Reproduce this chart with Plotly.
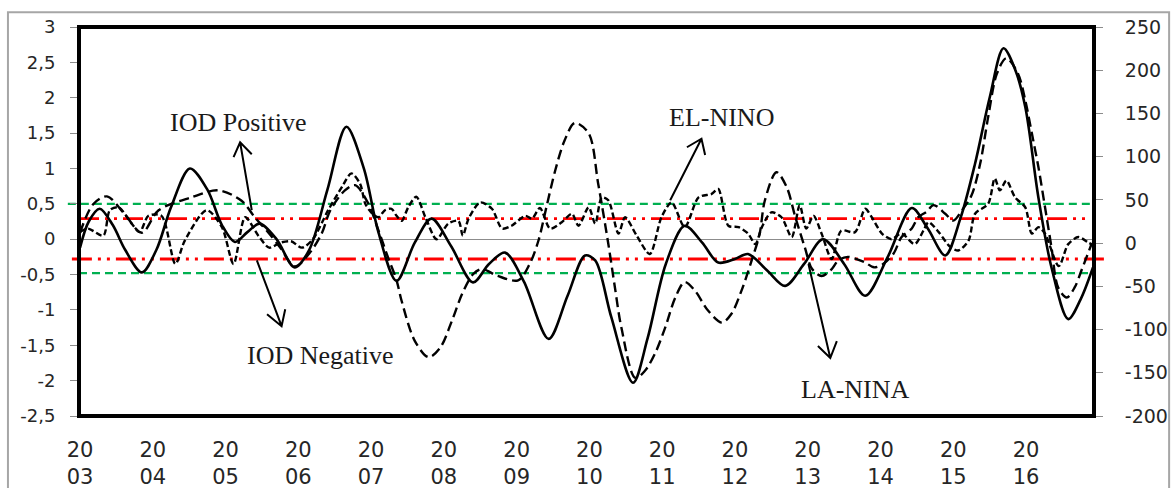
import plotly.graph_objects as go

# ENSO index (solid, left axis)
solid_years = [2003.00, 2003.12, 2003.27, 2003.45, 2003.62, 2003.85, 2004.05, 2004.25, 2004.51, 2004.75,
               2004.95, 2005.13, 2005.30, 2005.47, 2005.70, 2005.95, 2006.15, 2006.40, 2006.66, 2006.90,
               2007.10, 2007.35, 2007.60, 2007.83, 2008.10, 2008.40, 2008.62, 2008.84, 2009.10, 2009.44,
               2009.70, 2009.94, 2010.08, 2010.30, 2010.60, 2010.80, 2011.05, 2011.31, 2011.55, 2011.77,
               2012.00, 2012.18, 2012.45, 2012.69, 2012.95, 2013.21, 2013.50, 2013.79, 2014.10, 2014.43,
               2014.65, 2014.89, 2015.10, 2015.30, 2015.50, 2015.69, 2015.85, 2015.99, 2016.17, 2016.35,
               2016.58, 2016.75, 2016.92]
solid_vals = [-0.12, 0.25, 0.43, 0.20, -0.15, -0.47, -0.15, 0.45, 1.00, 0.70,
              0.20, -0.04, 0.10, 0.22, 0.00, -0.40, -0.15, 0.70, 1.59, 1.00,
              0.10, -0.59, -0.05, 0.29, -0.10, -0.61, -0.35, -0.19, -0.60, -1.41,
              -0.80, -0.23, -0.30, -1.10, -2.03, -1.40, -0.35, 0.19, -0.05, -0.33,
              -0.28, -0.21, -0.45, -0.66, -0.35, 0.00, -0.35, -0.80, -0.25, 0.44,
              0.15, -0.23, 0.30, 1.07, 2.00, 2.70, 2.40, 1.87, 0.59, -0.40,
              -1.13, -0.85, -0.40]

# Second ENSO index (long dash, right axis)
ldash_years = [2003.00, 2003.18, 2003.37, 2003.60, 2003.85, 2004.08, 2004.53, 2004.90, 2005.22, 2005.40,
               2005.57, 2005.75, 2005.95, 2006.15, 2006.32, 2006.44, 2006.64, 2006.78, 2006.96, 2007.10,
               2007.23, 2007.35, 2007.42, 2007.60, 2007.79, 2007.95, 2008.11, 2008.25, 2008.40, 2008.52,
               2008.74, 2009.02, 2009.18, 2009.30, 2009.41, 2009.53, 2009.66, 2009.80, 2009.99, 2010.12,
               2010.26, 2010.35, 2010.44, 2010.63, 2010.76, 2010.90, 2011.04, 2011.18, 2011.31, 2011.45,
               2011.63, 2011.82, 2011.95, 2012.09, 2012.23, 2012.34, 2012.41, 2012.57, 2012.71, 2012.83,
               2012.96, 2013.06, 2013.19, 2013.33, 2013.42, 2013.55, 2013.78, 2013.91, 2014.04, 2014.18,
               2014.29, 2014.43, 2014.52, 2014.63, 2014.73, 2014.89, 2015.00, 2015.12, 2015.25, 2015.37,
               2015.48, 2015.60, 2015.73, 2015.89, 2015.99, 2016.08, 2016.17, 2016.26, 2016.35, 2016.44,
               2016.56, 2016.67, 2016.76, 2016.90]
ldash_vals = [12, 45, 54, 35, 12, 38, 53, 61, 49, 30,
              14, -5, -27, -12, 11, 38, 61, 67, 46, 15,
              -16, -43, -67, -113, -132, -121, -90, -59, -36, -30,
              -38, -43, -24, 3, 42, 84, 119, 139, 127, 69,
              -1, -51, -98, -156, -148, -128, -98, -63, -45, -55,
              -78, -92, -82, -55, -20, 11, 49, 82, 65, 30,
              -5, -30, -38, -30, -20, -16, -22, -28, -24, -12,
              7, 17, 30, 36, 44, 34, 26, 38, 55, 92,
              146, 196, 214, 196, 165, 127, 88, 42, -5, -51,
              -63, -51, -32, -1]

# IOD index (short dash, left axis)
iod_years = [2003.00, 2003.11, 2003.32, 2003.41, 2003.53, 2003.71, 2003.82, 2003.94, 2004.12, 2004.31,
             2004.44, 2004.74, 2004.95, 2005.11, 2005.27, 2005.45, 2005.60, 2005.75, 2005.90, 2006.05,
             2006.20, 2006.41, 2006.60, 2006.73, 2006.85, 2006.92, 2007.00, 2007.10, 2007.19, 2007.28,
             2007.35, 2007.42, 2007.51, 2007.62, 2007.75, 2007.90, 2008.06, 2008.20, 2008.26, 2008.34,
             2008.50, 2008.66, 2008.80, 2008.93, 2009.12, 2009.21, 2009.32, 2009.46, 2009.62, 2009.76,
             2009.85, 2009.99, 2010.08, 2010.17, 2010.26, 2010.40, 2010.49, 2010.65, 2010.83, 2010.99,
             2011.13, 2011.31, 2011.50, 2011.68, 2011.77, 2011.91, 2012.05, 2012.18, 2012.28, 2012.37,
             2012.50, 2012.64, 2012.78, 2012.89, 2012.98, 2013.08, 2013.19, 2013.33, 2013.46, 2013.65,
             2013.79, 2013.88, 2014.02, 2014.15, 2014.29, 2014.47, 2014.59, 2014.66, 2014.80, 2014.95,
             2015.07, 2015.21, 2015.30, 2015.48, 2015.57, 2015.64, 2015.73, 2015.85, 2015.99, 2016.08,
             2016.17, 2016.26, 2016.45, 2016.58, 2016.72, 2016.86, 2016.92]
iod_vals = [0.10, 0.15, 0.05, 0.41, 0.45, 0.22, 0.10, 0.33, 0.33, -0.35,
            -0.02, 0.41, 0.17, -0.35, 0.31, 0.05, -0.12, -0.05, -0.03, -0.12,
            0.00, 0.41, 0.74, 0.93, 0.78, 0.50, 0.38, 0.31, 0.41, 0.43,
            0.33, 0.26, 0.45, 0.60, 0.30, 0.00, 0.22, 0.26, 0.05, 0.29,
            0.52, 0.43, 0.15, 0.19, 0.33, 0.29, 0.44, 0.15, 0.24, 0.36,
            0.19, 0.45, 0.22, 0.59, 0.55, 0.08, 0.31, 0.05, -0.21, 0.31,
            0.52, 0.17, 0.59, 0.64, 0.71, 0.19, 0.17, 0.08, -0.07, 0.17,
            0.38, 0.31, 0.03, 0.48, 0.15, 0.33, 0.08, -0.28, 0.12, 0.10,
            0.43, 0.31, 0.08, 0.00, 0.08, -0.07, 0.12, 0.24, 0.10, -0.10,
            -0.16, -0.02, 0.36, 0.50, 0.86, 0.69, 0.83, 0.59, 0.45, 0.08,
            0.17, 0.08, -0.38, -0.07, 0.03, -0.05, -0.08]

# Threshold levels (left axis units)
green_levels = [0.50, -0.48]
red_levels = [0.29, -0.28]

# Axis ticks
year_ticks = list(range(2003, 2017))
year_labels = ["20<br>%02d" % (y % 100) for y in year_ticks]
left_ticks = [-2.5, -2, -1.5, -1, -0.5, 0, 0.5, 1, 1.5, 2, 2.5, 3]
left_labels = ["-2,5", "-2", "-1,5", "-1", "-0,5", "0", "0,5", "1", "1,5", "2", "2,5", "3"]
right_ticks = [-200, -150, -100, -50, 0, 50, 100, 150, 200, 250]
right_labels = ["-200", "-150", "-100", "-50", "0", "50", "100", "150", "200", "250"]

fig = go.Figure()

fig.add_trace(go.Scatter(x=solid_years, y=solid_vals, mode="lines", yaxis="y",
                         line=dict(color="black", width=2.6, shape="spline", smoothing=0.9),
                         hoverinfo="skip"))
fig.add_trace(go.Scatter(x=ldash_years, y=ldash_vals, mode="lines", yaxis="y2",
                         line=dict(color="black", width=2.4, dash="10px,5px", shape="spline", smoothing=0.9),
                         hoverinfo="skip"))
fig.add_trace(go.Scatter(x=iod_years, y=iod_vals, mode="lines", yaxis="y",
                         line=dict(color="black", width=2.4, dash="6px,3px", shape="spline", smoothing=0.8),
                         hoverinfo="skip"))

shapes = []
# threshold lines
shapes.append(dict(type="line", xref="paper", yref="y", x0=-0.011, x1=1.0, y0=green_levels[0], y1=green_levels[0],
                   line=dict(color="#00b050", width=2.2, dash="8px,5px"), layer="below"))
shapes.append(dict(type="line", xref="paper", yref="y", x0=0.0, x1=1.0, y0=green_levels[1], y1=green_levels[1],
                   line=dict(color="#00b050", width=2.2, dash="8px,5px"), layer="below"))
shapes.append(dict(type="line", xref="paper", yref="y", x0=0.0, x1=0.995, y0=red_levels[0], y1=red_levels[0],
                   line=dict(color="#ff0000", width=2.8, dash="20px,6px,3px,6px,3px,6px"), layer="below"))
shapes.append(dict(type="line", xref="paper", yref="y", x0=-0.007, x1=1.012, y0=red_levels[1], y1=red_levels[1],
                   line=dict(color="#ff0000", width=2.8, dash="20px,6px,3px,6px,3px,6px"), layer="below"))

# plot-area frame and outer chart border
shapes.append(dict(type="rect", xref="paper", yref="paper", x0=0, x1=1, y0=0, y1=1,
                   line=dict(color="black", width=4)))
shapes.append(dict(type="rect", xref="paper", yref="paper", x0=-0.070, x1=1.074, y0=-0.25, y1=1.038,
                   line=dict(color="#a6a6a6", width=2)))

# annotation arrows (shaft + open head)
arrows = [
    ((2005.36, 0.41), (2005.20, 1.37), (2005.11, 1.16), (2005.36, 1.20)),
    ((2005.43, -0.30), (2005.77, -1.23), (2005.57, -1.06), (2005.82, -0.99)),
    ((2011.11, 0.55), (2011.54, 1.42), (2011.34, 1.30), (2011.59, 1.19)),
    ((2013.01, -0.35), (2013.31, -1.68), (2013.14, -1.51), (2013.40, -1.44)),
]
for tail, head, w1, w2 in arrows:
    path = "M %f,%f L %f,%f M %f,%f L %f,%f L %f,%f" % (tail[0], tail[1], head[0], head[1],
                                                          w1[0], w1[1], head[0], head[1], w2[0], w2[1])
    shapes.append(dict(type="path", xref="x", yref="y", path=path, line=dict(color="black", width=2)))

label_font = dict(family="Liberation Serif", size=26, color="#1a1a1a")
annotations = [
    dict(x=2005.18, y=1.65, text="IOD Positive", showarrow=False, xref="x", yref="y", font=label_font),
    dict(x=2006.30, y=-1.65, text="IOD Negative", showarrow=False, xref="x", yref="y", font=label_font),
    dict(x=2011.81, y=1.72, text="EL-NINO", showarrow=False, xref="x", yref="y", font=label_font),
    dict(x=2013.66, y=-2.12, text="LA-NINA", showarrow=False, xref="x", yref="y", font=label_font),
]

tick_font = dict(family="DejaVu Sans", size=18, color="#262626")

fig.update_layout(
    width=1173, height=488,
    margin=dict(l=79, r=79, t=27, b=72),
    paper_bgcolor="white", plot_bgcolor="white",
    showlegend=False,
    shapes=shapes,
    annotations=annotations,
    xaxis=dict(range=[2002.986, 2016.934], tickvals=year_ticks, ticktext=year_labels,
               showgrid=False, zeroline=False, showline=False, ticks="", automargin=False,
               tickfont=dict(family="DejaVu Sans", size=21, color="#262626"), ticklabelstandoff=19),
    yaxis=dict(range=[-2.5, 3], tickvals=left_ticks, ticktext=left_labels, automargin=False,
               showgrid=False, zeroline=True, zerolinecolor="#8c8c8c", zerolinewidth=1.2,
               showline=False, ticks="outside", ticklen=8, tickcolor="#8c8c8c", tickwidth=1,
               tickfont=tick_font, ticklabelstandoff=11),
    yaxis2=dict(range=[-200, 250], tickvals=right_ticks, ticktext=right_labels, automargin=False,
                overlaying="y", side="right", showgrid=False, zeroline=False, showline=False,
                ticks="outside", ticklen=8, tickcolor="#8c8c8c", tickwidth=1,
                tickfont=dict(family="DejaVu Sans", size=19, color="#262626"), ticklabelstandoff=18),
)

fig.write_html("out.html")
